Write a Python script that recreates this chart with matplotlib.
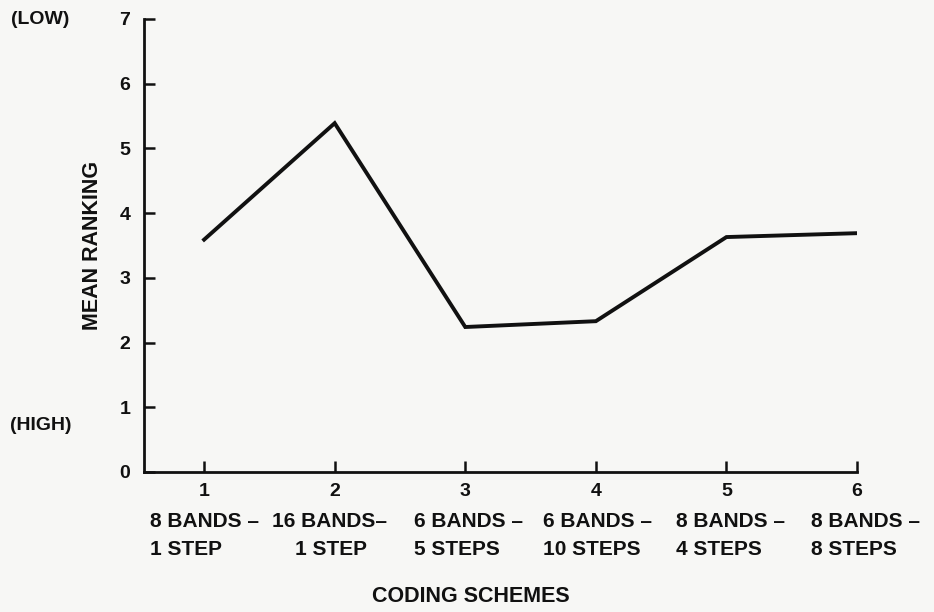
import matplotlib
matplotlib.use("Agg")
import matplotlib.pyplot as plt

# values
schemes = [1, 2, 3, 4, 5, 6]
mean_rank = [3.59, 5.39, 2.24, 2.33, 3.63, 3.69]
scheme_names = ["8 BANDS \u2013\n1 STEP",
                "16 BANDS\u2013\n    1 STEP",
                "6 BANDS \u2013\n5 STEPS",
                "6 BANDS \u2013\n10 STEPS",
                "8 BANDS \u2013\n4 STEPS",
                "8 BANDS \u2013\n8 STEPS"]
yticks = [0, 1, 2, 3, 4, 5, 6, 7]

# left edge of each scheme caption, points from its tick
name_shift = [-39, -45, -37, -38, -36, -33]

plt.rcParams['font.family'] = ['Liberation Sans', 'DejaVu Sans']
plt.rcParams['font.weight'] = 'bold'
ink = '#111111'
paper = '#f7f7f5'

fig = plt.figure(figsize=(9.34, 6.12), dpi=100, facecolor=paper)
ax = fig.add_axes([0.1542, 0.2288, 0.7634, 0.7402])
ax.set_facecolor(paper)

ax.plot(schemes, mean_rank, color=ink, linewidth=2.8, solid_joinstyle='miter')

ax.set_xlim(0.54, 6)
ax.set_ylim(0, 7)
ax.spines['top'].set_visible(False)
ax.spines['right'].set_visible(False)
for s in ['left', 'bottom']:
    ax.spines[s].set_linewidth(2)
    ax.spines[s].set_color(ink)

ax.set_xticks(schemes)
ax.set_xticklabels([str(s) for s in schemes])
ax.set_yticks(yticks)
ax.tick_params(direction='in', length=8, width=1.8, colors=ink, labelsize=14)
ax.tick_params(axis='y', pad=10)
ax.tick_params(axis='x', pad=8)

for x, name, dx in zip(schemes, scheme_names, name_shift):
    ax.annotate(name, xy=(x, 0), xycoords=('data', 'axes fraction'),
                xytext=(dx, -29), textcoords='offset points',
                ha='left', va='top', fontsize=15, color=ink,
                linespacing=1.6)

ax.set_ylabel('MEAN RANKING', fontsize=15.5, fontweight='bold', color=ink,
              labelpad=12)
fig.text(471 / 934, 1 - 597 / 612, 'CODING SCHEMES', ha='center', va='center',
         fontsize=15.5, color=ink)
fig.text(40 / 934, 1 - 19 / 612, '(LOW)', ha='center', va='center',
         fontsize=14, color=ink)
fig.text(41 / 934, 1 - 426 / 612, '(HIGH)', ha='center', va='center',
         fontsize=14, color=ink)

fig.savefig('out.png', dpi=100, facecolor=paper)
